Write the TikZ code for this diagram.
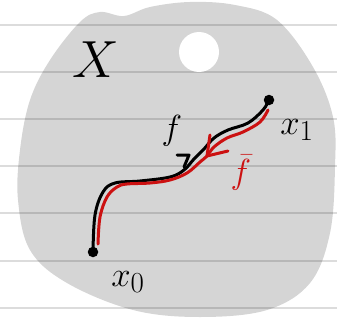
\documentclass[tikz,border=0pt]{standalone}
\usetikzlibrary{arrows.meta}
\definecolor{penred}{HTML}{CC1111}
\definecolor{ruled}{HTML}{DCDCDC}

\begin{document}
\begin{tikzpicture}[x=1pt, y=-1pt,
    rule/.style={draw=ruled, line width=1.6pt},
    space/.style={fill=black, fill opacity=0.165},
    hole/.style={circle, fill=white, minimum size=40pt, inner sep=0pt},
    pt/.style={circle, fill=black, minimum size=10.5pt, inner sep=0pt},
    pen/.style={line width=3pt, line cap=round, line join=round},
    lab/.style={font=\Huge, scale=1.4, inner sep=0pt},
  ]
  \useasboundingbox (0,0) rectangle (337,321);
  \fill[white] (0,0) rectangle (337,321);

  % ---------- ruled paper ----------
  \foreach \y in {25,72,119,166,213,261,308}
    \draw[rule] (0,\y) -- (337,\y);

  % ---------- the space X ----------
  \fill[space] plot[smooth cycle, tension=0.6] coordinates {
      (100,12) (124,16) (150,7) (190,2) (235,5) (277,20) (313,67)
      (333,117) (335,167) (330,233) (310,283) (267,310) (200,317)
      (133,310) (67,283) (30,250) (18,200) (20,150) (30,100)
      (50,60) (80,22)};
  \node[hole] (hole) at (199,52) {};
  \node[lab, scale=1.5] (X) at (96,60) {$X$};

  % ---------- end points ----------
  \node[pt] (x0) at (93,252) {};
  \node[pt] (x1) at (269,100) {};
  \node[lab] (x0lab) at (128,282) {$x_0$};
  \node[lab] (x1lab) at (297,130) {$x_1$};

  % ---------- path f ----------
  \draw[pen] plot[smooth, tension=0.6] coordinates {
      (x0) (95,215) (103,192) (115,183) (140,181) (170,177)
      (184,170) (194,159) (204,149) (214,138) (228,130) (248,123)
      (263,110) (x1)};
  \coordinate (fmid) at (189,155);
  \draw[pen] (177,155) -- (fmid) -- (184,167);
  \node[lab] (flab) at (172,131) {$f$};

  % ---------- reversed path ----------
  \coordinate (rtop) at (268,110);
  \coordinate (rmid) at (207,156);
  \coordinate (rbot) at (98,244);
  \draw[pen, penred] plot[smooth, tension=0.6] coordinates {
      (rtop) (260,122) (243,132) (227,138) (214,147) (rmid)
      (200,162) (187,173) (170,180) (150,183) (127,184)
      (117,187) (107,197) (100,217) (rbot)};
  \draw[pen, penred] (210,135) -- (rmid) -- (228,151);
  \node[lab, penred] (fbarlab) at (241,173) {$\bar f$};
\end{tikzpicture}
\end{document}
